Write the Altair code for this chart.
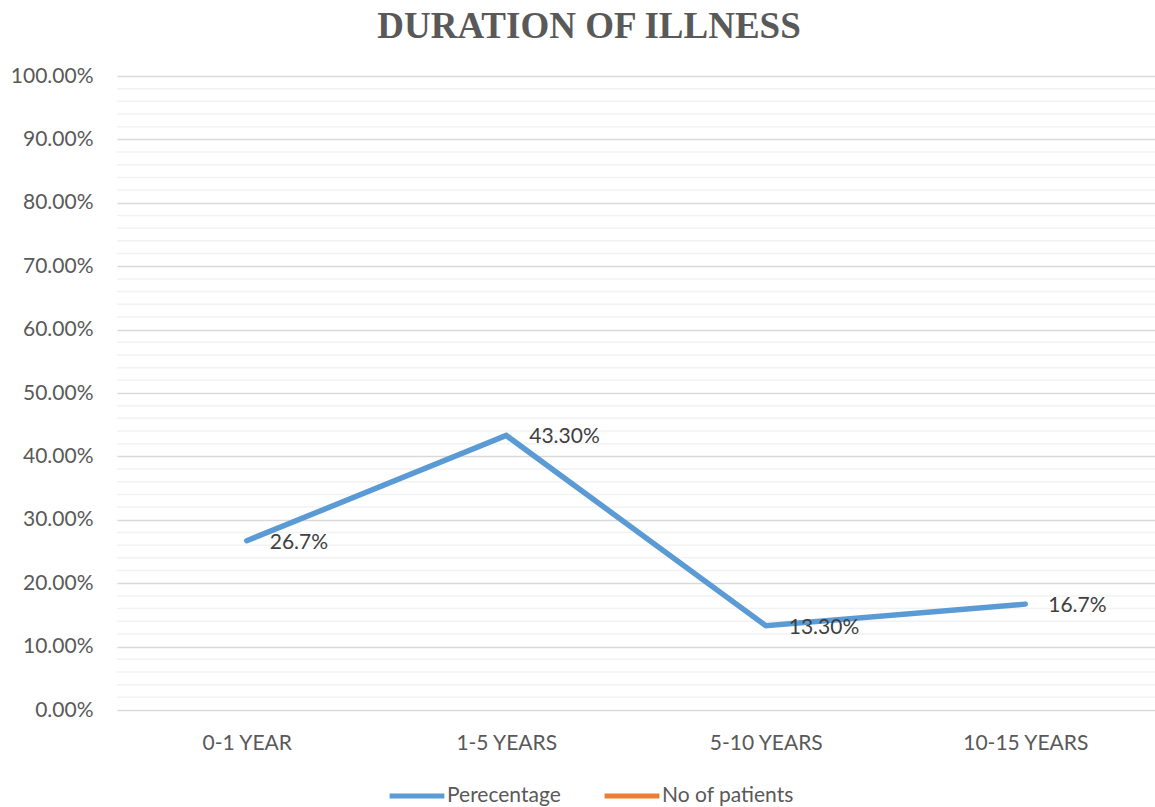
import altair as alt
import pandas as pd

# Duration of illness: share of patients per duration band
categories = ["0-1 YEAR", "1-5 YEARS", "5-10 YEARS", "10-15 YEARS"]
percentage = [0.267, 0.433, 0.133, 0.167]
point_labels = ["26.7%", "43.30%", "13.30%", "16.7%"]
series_names = ["Perecentage", "No of patients"]
series_colors = ["#5B9BD5", "#ED7D31"]
major_ticks = [0.0, 0.1, 0.2, 0.3, 0.4, 0.5, 0.6, 0.7, 0.8, 0.9, 1.0]
minor_ticks = [v / 100 for v in range(2, 100, 2) if v % 10 != 0]

W, H = 1038, 634
FONT = "Lato"

df = pd.DataFrame({
    "duration": categories,
    "value": percentage,
    "label": point_labels,
    "series": [series_names[0]] * len(categories),
})
minor_df = pd.DataFrame({"v": minor_ticks})

x_scale = alt.Scale(type="point", padding=0.5)
x_enc = alt.X(
    "duration:N",
    sort=categories,
    scale=x_scale,
    axis=alt.Axis(
        title=None, labelAngle=0, domain=False, ticks=False, grid=False,
        labelFont=FONT, labelFontSize=21, labelColor="#595959", labelPadding=22,
    ),
)
y_scale = alt.Scale(domain=[0, 1], nice=False)
y_axis = alt.Axis(
    title=None, values=major_ticks, format=".2%", domain=False, ticks=False,
    grid=True, gridColor="#d9d9d9", gridWidth=1.5,
    labelFont=FONT, labelFontSize=21, labelColor="#595959", labelPadding=24,
)

# light minor gridlines every 2%
minor_grid = alt.Chart(minor_df).mark_rule(color="#f2f2f2", strokeWidth=1.5).encode(
    y=alt.Y("v:Q", scale=y_scale, axis=y_axis)
)

line = alt.Chart(df).mark_line(strokeWidth=5.5, strokeCap="round", strokeJoin="miter").encode(
    x=x_enc,
    y=alt.Y("value:Q", scale=y_scale, axis=y_axis),
    color=alt.Color(
        "series:N",
        scale=alt.Scale(domain=series_names, range=series_colors),
        legend=alt.Legend(
            title=None, orient="none", direction="horizontal",
            legendX=270, legendY=690, padding=0,
            symbolType="stroke", symbolSize=3000, symbolStrokeWidth=5,
            labelFont=FONT, labelFontSize=21, labelColor="#595959",
            labelOffset=0, columnPadding=33, labelLimit=400,
        ),
    ),
)

labels = alt.Chart(df).mark_text(
    align="left", baseline="middle", dx=23, dy=2,
    font=FONT, fontSize=21, color="#404040",
).encode(
    x=alt.X("duration:N", sort=categories, scale=x_scale),
    y=alt.Y("value:Q", scale=y_scale),
    text="label:N",
)

chart = (
    alt.layer(minor_grid, line, labels)
    .properties(
        width=W,
        height=H,
        autosize=alt.AutoSizeParams(type="none"),
        padding={"left": 117, "top": 76, "right": 0, "bottom": 97},
        title=alt.TitleParams(
            "DURATION OF ILLNESS",
            font="Liberation Serif", fontSize=37, fontWeight="bold", color="#595959",
            anchor="middle", dx=-47, offset=19,
        ),
    )
    .configure_view(stroke=None)
)

chart.save("out.html", embed_options={"renderer": "svg", "actions": False})
